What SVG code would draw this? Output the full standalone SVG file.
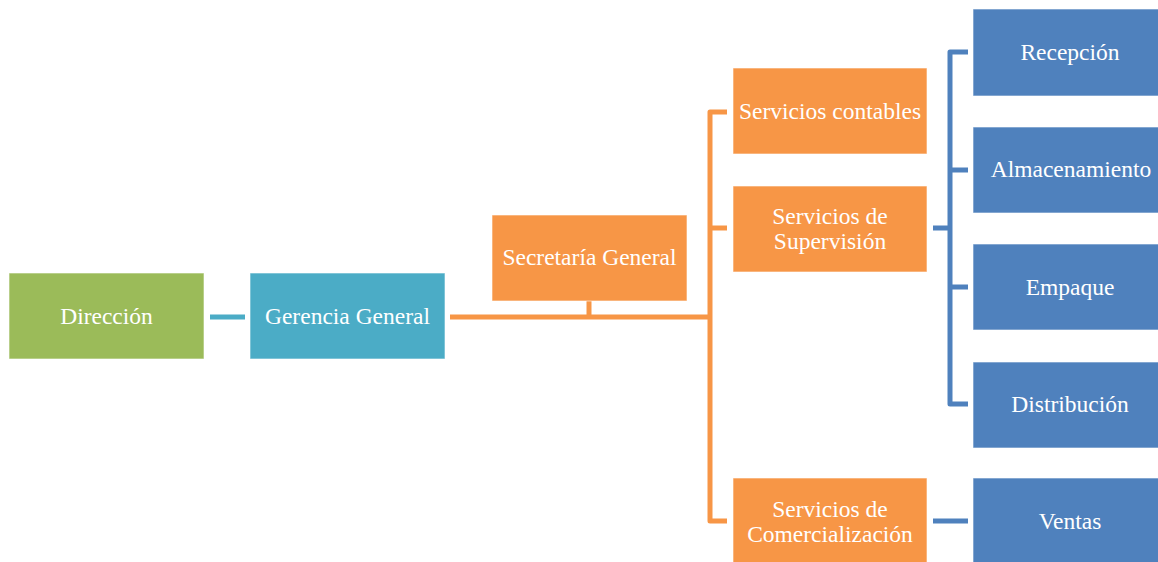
<svg xmlns="http://www.w3.org/2000/svg" width="1158" height="562" viewBox="0 0 1158 562">
  <style>
    .box { stroke: #ffffff; stroke-opacity: 0.6; stroke-width: 1; }
    .green { fill: #9BBB59; }
    .teal { fill: #4BACC6; }
    .orange { fill: #F79646; }
    .blue { fill: #4F81BD; }
    .lbl { font-family: "Liberation Serif", "Times New Roman", serif; font-size: 23.5px; fill: #ffffff; text-anchor: middle; }
    .wire { fill: none; stroke-width: 5; stroke-linejoin: round; }
    .w-teal { stroke: #4BACC6; }
    .w-orange { stroke: #F79646; }
    .w-blue { stroke: #4F81BD; }
  </style>
  <rect width="1158" height="562" fill="#ffffff"/>

  <!-- connectors -->
  <g id="connectors">
    <path class="wire w-teal" d="M210 317 H245"/>
    <path class="wire w-orange" d="M450 317 H710"/>
    <path class="wire w-orange" d="M589 301 V317"/>
    <path class="wire w-orange" d="M727 112 H710 V521 H727"/>
    <path class="wire w-orange" d="M710 228 H727"/>
    <path class="wire w-blue" d="M933 228 H950"/>
    <path class="wire w-blue" d="M968 52 H950 V404 H968"/>
    <path class="wire w-blue" d="M950 170 H968"/>
    <path class="wire w-blue" d="M950 287 H968"/>
    <path class="wire w-blue" d="M933 521 H968"/>
  </g>

  <g id="direccion">
    <rect class="box green" x="9" y="273" width="195" height="86"/>
    <text class="lbl" x="106.5" y="324">Dirección</text>
  </g>
  <g id="gerencia-general">
    <rect class="box teal" x="250" y="273" width="195" height="86"/>
    <text class="lbl" x="347.5" y="324">Gerencia General</text>
  </g>
  <g id="secretaria-general">
    <rect class="box orange" x="492" y="215" width="195" height="86"/>
    <text class="lbl" x="589.5" y="265">Secretaría General</text>
  </g>
  <g id="servicios-contables">
    <rect class="box orange" x="733" y="68" width="194" height="86"/>
    <text class="lbl" x="830" y="119">Servicios contables</text>
  </g>
  <g id="servicios-supervision">
    <rect class="box orange" x="733" y="186" width="194" height="86"/>
    <text class="lbl" x="830" y="224">Servicios de</text>
    <text class="lbl" x="830" y="249">Supervisión</text>
  </g>
  <g id="servicios-comercializacion">
    <rect class="box orange" x="733" y="478" width="194" height="86"/>
    <text class="lbl" x="830" y="517">Servicios de</text>
    <text class="lbl" x="830" y="542">Comercialización</text>
  </g>
  <g id="recepcion">
    <rect class="box blue" x="973" y="9" width="186" height="87"/>
    <text class="lbl" x="1070" y="60">Recepción</text>
  </g>
  <g id="almacenamiento">
    <rect class="box blue" x="973" y="127" width="186" height="86"/>
    <text class="lbl" x="1071" y="177">Almacenamiento</text>
  </g>
  <g id="empaque">
    <rect class="box blue" x="973" y="244" width="186" height="86"/>
    <text class="lbl" x="1070" y="295">Empaque</text>
  </g>
  <g id="distribucion">
    <rect class="box blue" x="973" y="362" width="186" height="86"/>
    <text class="lbl" x="1070" y="412">Distribución</text>
  </g>
  <g id="ventas">
    <rect class="box blue" x="973" y="478" width="186" height="86"/>
    <text class="lbl" x="1070" y="529">Ventas</text>
  </g>
</svg>
